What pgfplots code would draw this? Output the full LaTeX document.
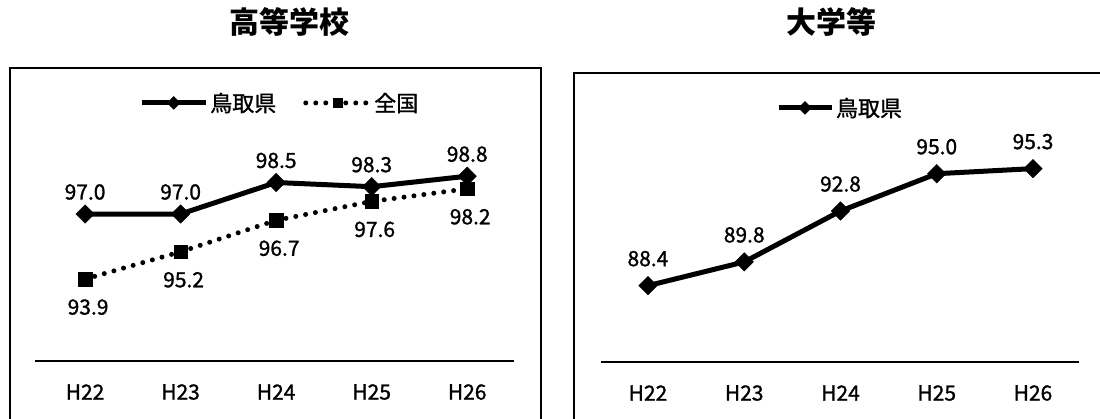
\documentclass[border=0pt]{standalone}
\usepackage{pgfplots}
\pgfplotsset{compat=1.18}
\usepackage{fontspec}
\setmainfont{Noto Sans CJK JP}
\newfontfamily\lbl{Noto Sans CJK JP}[FakeBold=1.2]

\pgfplotsset{
  panel/.style={
    scale only axis, anchor=south west, clip=false,
    axis x line*=bottom, axis y line=none,
    x axis line style={line width=1.5pt, -},
    xtick={0,1,2,3,4}, xticklabels={H22,H23,H24,H25,H26},
    major tick length=0pt, ytick=\empty,
    xticklabel style={font=\lbl\fontsize{21}{25}\selectfont, anchor=center, yshift=-31pt},
    title style={anchor=center, font=\fontsize{30}{36}\selectfont\bfseries},
    legend style={draw=none, fill=none, anchor=center,
      font=\lbl\fontsize{22}{26}\selectfont, /tikz/every even column/.append style={column sep=25pt}},
    nodes near coords, point meta=explicit symbolic,
  },
  tottori/.style={black, line width=5pt, mark=square*,
    mark options={solid, rotate=45, line width=0.5pt}, mark size=6.5pt},
  zenkoku/.style={black, line width=5pt, line cap=round, dash pattern=on 0pt off 10pt,
    mark=square*, mark options={solid, line width=0.5pt}, mark size=6.7pt},
  above label/.style={every node near coord/.append style={anchor=center, yshift=#1, font=\lbl\fontsize{21}{25}\selectfont}},
  below label/.style={every node near coord/.append style={anchor=center, yshift=#1, xshift=3pt, font=\lbl\fontsize{21}{25}\selectfont}},
}

\begin{document}
\begin{tikzpicture}
\useasboundingbox (0pt,0pt) rectangle (1100pt,418pt);

% panel frames
\draw[line width=2pt] (10pt,-10pt) -- (10pt,350pt) -- (541pt,350pt) -- (541pt,-10pt);
\draw[line width=2pt] (574pt,-10pt) -- (574pt,345pt) -- (1120pt,345pt);

% 高等学校
\begin{axis}[panel, at={(35pt,57pt)}, width=479pt, height=210pt,
  xmin=-0.524, xmax=4.49, ymin=90, ymax=100,
  title={高等学校}, title style={at={(0.532,1.586)}},
  legend columns=2, legend style={at={(0.511,1.229)}},
  legend image code/.code={\draw[mark repeat=2,mark phase=2,#1,mark size=4.5pt]
    plot coordinates {(0pt,0pt)(32pt,0pt)(64pt,0pt)};}]
\addplot[tottori, above label=22pt] coordinates {
  (0,97.0)[97.0] (1,97.0)[97.0] (2,98.5)[98.5] (3,98.3)[98.3] (4,98.8)[98.8]};
\addplot[zenkoku, below label=-28pt] coordinates {
  (0,93.9)[93.9] (1,95.2)[95.2] (2,96.7)[96.7] (3,97.6)[97.6] (4,98.2)[98.2]};
\legend{鳥取県,全国}
\end{axis}

% 大学等
\begin{axis}[panel, at={(601pt,56pt)}, width=478pt, height=210pt,
  xmin=-0.488, xmax=4.478, ymin=83.9, ymax=96.28,
  title={大学等}, title style={at={(0.483,1.59)}},
  legend style={at={(0.5,1.21)}},
  legend image code/.code={\draw[mark repeat=2,mark phase=2,#1,mark size=4.5pt]
    plot coordinates {(0pt,0pt)(26.5pt,0pt)(53pt,0pt)};}]
\addplot[tottori, above label=27pt] coordinates {
  (0,88.4)[88.4] (1,89.8)[89.8] (2,92.8)[92.8] (3,95.0)[95.0] (4,95.3)[95.3]};
\legend{鳥取県}
\end{axis}
\end{tikzpicture}
\end{document}
